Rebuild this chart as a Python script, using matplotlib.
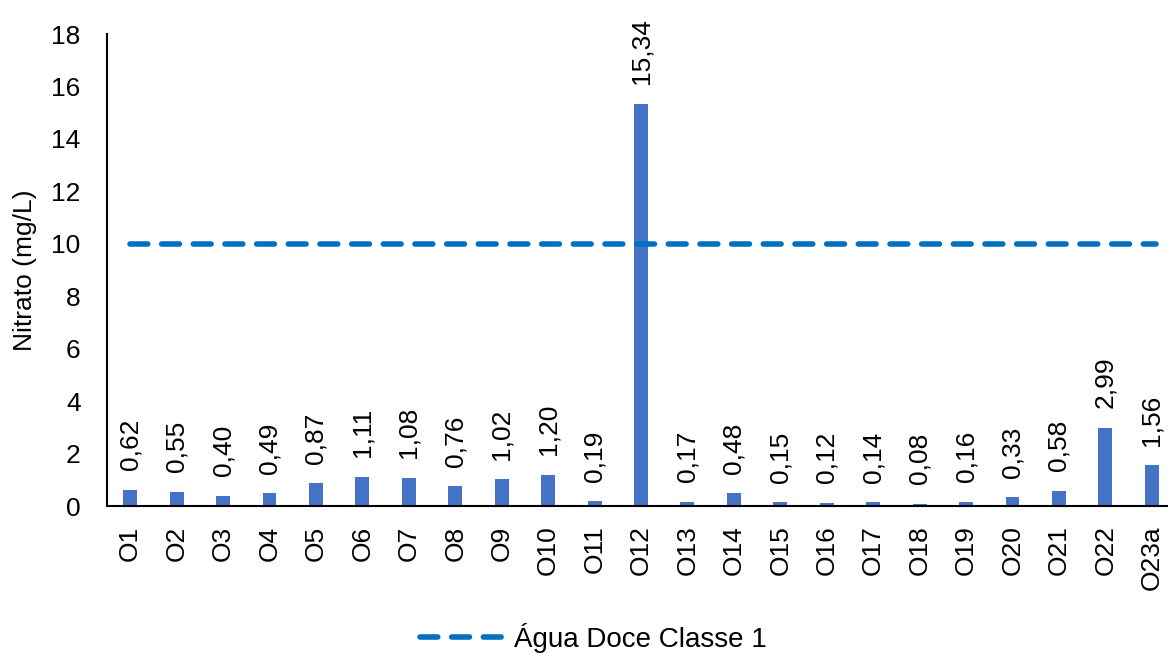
import matplotlib.pyplot as plt
import numpy as np

plt.rcParams['font.family'] = ['Liberation Sans', 'DejaVu Sans']

pontos = ['O1', 'O2', 'O3', 'O4', 'O5', 'O6', 'O7', 'O8', 'O9', 'O10', 'O11', 'O12',
          'O13', 'O14', 'O15', 'O16', 'O17', 'O18', 'O19', 'O20', 'O21', 'O22', 'O23a']
nitrato = [0.62, 0.55, 0.40, 0.49, 0.87, 1.11, 1.08, 0.76, 1.02, 1.20, 0.19, 15.34,
           0.17, 0.48, 0.15, 0.12, 0.14, 0.08, 0.16, 0.33, 0.58, 2.99, 1.56]
limite = 10  # Agua Doce Classe 1

fs = 19

fig = plt.figure(figsize=(11.68, 6.57), dpi=100)
ax = fig.add_axes([107/1168, 1-506/657, 1068/1168, 472/657])

x = np.arange(len(pontos))
ax.bar(x, nitrato, width=0.3, color='#4472C4', zorder=2)
ax.plot([x[0], x[-1] + 0.1], [limite, limite], color='#0070C0', lw=4,
        dashes=(3.2, 2.5), dash_capstyle='round', label='Água Doce Classe 1', zorder=3)

for xi, v in zip(x, nitrato):
    ax.annotate(f'{v:.2f}'.replace('.', ','), (xi, v), xytext=(0, 14),
                textcoords='offset points', rotation=90, ha='center', va='bottom',
                fontsize=fs)

ax.set_xlim(-0.5, len(pontos) - 0.5)
ax.set_ylim(0, 18)
ax.set_yticks(range(0, 19, 2))
ax.set_xticks(x)
ax.set_xticklabels(pontos, rotation=90)
ax.tick_params(axis='both', length=0, labelsize=fs)
ax.tick_params(axis='y', pad=19)
ax.tick_params(axis='x', pad=14)
ax.set_ylabel('Nitrato (mg/L)', fontsize=fs, labelpad=10)

for s in ['top', 'right']:
    ax.spines[s].set_visible(False)
ax.spines['left'].set_linewidth(1.5)
ax.spines['bottom'].set_linewidth(1.5)

fig.legend(loc='lower center', bbox_to_anchor=(0.508, -0.032), frameon=False,
           fontsize=fs + 1, handlelength=3.0, handletextpad=0.4)

plt.savefig('out.png', dpi=100)
